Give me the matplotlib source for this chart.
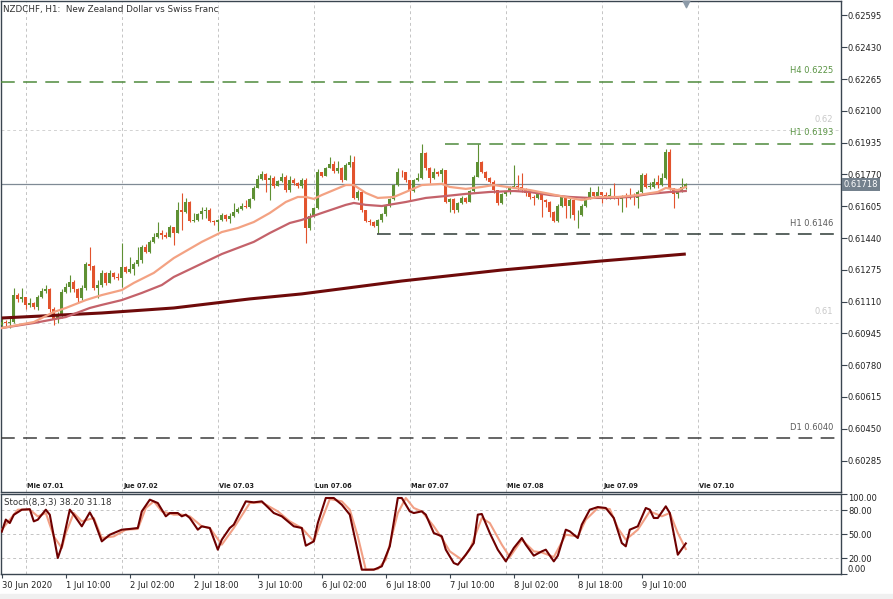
import matplotlib
matplotlib.use('Agg')
import numpy as np
import matplotlib.pyplot as plt
from matplotlib import transforms
from matplotlib.patches import Rectangle

# ---- data (NZDCHF H1, 30 Jun 18:00 -> 9 Jul 21:00) ----
first_open = 0.60989
closes = [
    0.61006, 0.60997, 0.61006, 0.61144, 0.61122, 0.61132, 0.61093, 0.61101, 0.61084, 0.61132,
    0.61165, 0.61174, 0.61070, 0.61018, 0.61035, 0.61162, 0.61188, 0.61214, 0.61174, 0.61127,
    0.61179, 0.61305, 0.61295, 0.61179, 0.61196, 0.61257, 0.61208, 0.61257, 0.61236, 0.61231,
    0.61291, 0.61265, 0.61281, 0.61305, 0.61326, 0.61395, 0.61369, 0.61421, 0.61444, 0.61468,
    0.61456, 0.61447, 0.61499, 0.61468, 0.61586, 0.61577, 0.61625, 0.61529, 0.61534, 0.61565,
    0.61580, 0.61586, 0.61529, 0.61522, 0.61534, 0.61560, 0.61539, 0.61556, 0.61577, 0.61591,
    0.61608, 0.61603, 0.61643, 0.61702, 0.61746, 0.61771, 0.61741, 0.61753, 0.61712, 0.61736,
    0.61759, 0.61689, 0.61741, 0.61724, 0.61712, 0.61741, 0.61490, 0.61556, 0.61594, 0.61781,
    0.61764, 0.61802, 0.61823, 0.61788, 0.61805, 0.61741, 0.61819, 0.61833, 0.61646, 0.61681,
    0.61586, 0.61529, 0.61522, 0.61504, 0.61534, 0.61563, 0.61608, 0.61643, 0.61715, 0.61785,
    0.61781, 0.61741, 0.61684, 0.61741, 0.61753, 0.61880, 0.61802, 0.61750, 0.61781, 0.61771,
    0.61793, 0.61629, 0.61643, 0.61586, 0.61620, 0.61650, 0.61629, 0.61684, 0.61759, 0.61833,
    0.61785, 0.61750, 0.61733, 0.61689, 0.61620, 0.61667, 0.61677, 0.61702, 0.61712, 0.61707,
    0.61690, 0.61672, 0.61655, 0.61646, 0.61667, 0.61638, 0.61629, 0.61577, 0.61529, 0.61608,
    0.61655, 0.61608, 0.61638, 0.61560, 0.61560, 0.61608, 0.61650, 0.61677, 0.61660, 0.61677,
    0.61663, 0.61660, 0.61660, 0.61650, 0.61643, 0.61660, 0.61655, 0.61650, 0.61646, 0.61681,
    0.61767, 0.61707, 0.61707, 0.61729, 0.61715, 0.61750, 0.61888, 0.61698, 0.61667, 0.61684,
    0.61703, 0.61718]
highs = [
    0.61023, 0.61015, 0.61023, 0.61179, 0.61153, 0.61179, 0.61118, 0.61127, 0.61110, 0.61144,
    0.61179, 0.61196, 0.61179, 0.61084, 0.61058, 0.61174, 0.61205, 0.61248, 0.61222, 0.61179,
    0.61196, 0.61317, 0.61395, 0.61300, 0.61222, 0.61274, 0.61265, 0.61274, 0.61265, 0.61260,
    0.61412, 0.61295, 0.61343, 0.61317, 0.61395, 0.61404, 0.61409, 0.61430, 0.61465, 0.61522,
    0.61482, 0.61473, 0.61508, 0.61496, 0.61629, 0.61672, 0.61646, 0.61632, 0.61568, 0.61570,
    0.61603, 0.61603, 0.61594, 0.61534, 0.61540, 0.61568, 0.61565, 0.61570, 0.61620, 0.61600,
    0.61620, 0.61637, 0.61650, 0.61708, 0.61767, 0.61788, 0.61776, 0.61767, 0.61760, 0.61740,
    0.61776, 0.61767, 0.61764, 0.61750, 0.61730, 0.61750, 0.61750, 0.61570, 0.61600, 0.61799,
    0.61785, 0.61810, 0.61862, 0.61840, 0.61840, 0.61810, 0.61828, 0.61871, 0.61868, 0.61690,
    0.61690, 0.61586, 0.61540, 0.61530, 0.61540, 0.61570, 0.61615, 0.61650, 0.61720, 0.61802,
    0.61793, 0.61776, 0.61741, 0.61748, 0.61776, 0.61926, 0.61888, 0.61810, 0.61802, 0.61790,
    0.61802, 0.61795, 0.61650, 0.61646, 0.61625, 0.61660, 0.61655, 0.61690, 0.61765, 0.61926,
    0.61840, 0.61790, 0.61755, 0.61740, 0.61690, 0.61675, 0.61685, 0.61710, 0.61819, 0.61767,
    0.61776, 0.61700, 0.61675, 0.61665, 0.61675, 0.61672, 0.61640, 0.61630, 0.61580, 0.61615,
    0.61660, 0.61660, 0.61660, 0.61640, 0.61586, 0.61615, 0.61655, 0.61707, 0.61680, 0.61712,
    0.61680, 0.61680, 0.61700, 0.61724, 0.61660, 0.61665, 0.61672, 0.61698, 0.61672, 0.61690,
    0.61775, 0.61776, 0.61730, 0.61753, 0.61767, 0.61776, 0.61902, 0.61902, 0.61700, 0.61690,
    0.61753, 0.61724]
lows = [
    0.60980, 0.60980, 0.60971, 0.60997, 0.61110, 0.61110, 0.61070, 0.61080, 0.61070, 0.61067,
    0.61127, 0.61153, 0.61058, 0.60989, 0.60997, 0.61023, 0.61153, 0.61162, 0.61162, 0.61110,
    0.61118, 0.61170, 0.61274, 0.61170, 0.61127, 0.61188, 0.61196, 0.61205, 0.61226, 0.61222,
    0.61188, 0.61257, 0.61257, 0.61248, 0.61295, 0.61312, 0.61361, 0.61361, 0.61412, 0.61439,
    0.61433, 0.61439, 0.61444, 0.61404, 0.61490, 0.61482, 0.61568, 0.61525, 0.61525, 0.61530,
    0.61540, 0.61542, 0.61525, 0.61508, 0.61477, 0.61530, 0.61530, 0.61516, 0.61550, 0.61568,
    0.61586, 0.61594, 0.61594, 0.61637, 0.61697, 0.61740, 0.61681, 0.61637, 0.61700, 0.61712,
    0.61730, 0.61680, 0.61680, 0.61715, 0.61700, 0.61700, 0.61413, 0.61482, 0.61550, 0.61590,
    0.61755, 0.61760, 0.61810, 0.61780, 0.61780, 0.61733, 0.61741, 0.61810, 0.61640, 0.61638,
    0.61577, 0.61522, 0.61508, 0.61499, 0.61465, 0.61525, 0.61555, 0.61600, 0.61638, 0.61708,
    0.61759, 0.61733, 0.61638, 0.61680, 0.61735, 0.61745, 0.61795, 0.61724, 0.61745, 0.61760,
    0.61733, 0.61620, 0.61573, 0.61568, 0.61577, 0.61615, 0.61620, 0.61625, 0.61680, 0.61755,
    0.61775, 0.61740, 0.61725, 0.61672, 0.61612, 0.61615, 0.61660, 0.61670, 0.61697, 0.61690,
    0.61680, 0.61660, 0.61645, 0.61612, 0.61640, 0.61551, 0.61603, 0.61551, 0.61522, 0.61525,
    0.61600, 0.61542, 0.61542, 0.61534, 0.61490, 0.61555, 0.61600, 0.61645, 0.61650, 0.61655,
    0.61620, 0.61640, 0.61640, 0.61640, 0.61612, 0.61577, 0.61603, 0.61640, 0.61612, 0.61594,
    0.61675, 0.61700, 0.61695, 0.61700, 0.61700, 0.61710, 0.61745, 0.61690, 0.61594, 0.61646,
    0.61680, 0.61695]

# moving averages (bar index, value)
ma_fast_idx = [0, 8, 13, 16, 21, 25, 30, 33, 38, 43, 50, 55, 59, 63, 67, 71, 74, 76, 78, 80, 86, 88,
               91, 94, 98, 101, 105, 110, 112, 116, 120, 123, 128, 132, 137, 142, 145, 149, 154,
               159, 164, 166, 169, 171]
ma_fast = [0.60973, 0.61004, 0.61056, 0.61077, 0.61118, 0.61144, 0.61170, 0.61207, 0.61259, 0.61336,
           0.61420, 0.61471, 0.61492, 0.61523, 0.61570, 0.61627, 0.61653, 0.61653, 0.61643, 0.61663,
           0.61715, 0.61715, 0.61674, 0.61648, 0.61653, 0.61679, 0.61715, 0.61721, 0.61705, 0.61695,
           0.61705, 0.61715, 0.61700, 0.61689, 0.61669, 0.61648, 0.61637, 0.61653, 0.61653, 0.61663,
           0.61679, 0.61700, 0.61689, 0.61705]
ma_mid_idx = [0, 8, 16, 22, 25, 30, 35, 40, 43, 55, 63, 67, 72, 75, 80, 86, 88, 91, 95, 101, 106,
              111, 116, 122, 128, 132, 137, 142, 147, 152, 157, 162, 167, 171]
ma_mid = [0.60973, 0.60999, 0.61030, 0.61077, 0.61093, 0.61118, 0.61155, 0.61196, 0.61238, 0.61357,
          0.61420, 0.61466, 0.61518, 0.61534, 0.61570, 0.61612, 0.61622, 0.61612, 0.61606, 0.61627,
          0.61648, 0.61658, 0.61669, 0.61679, 0.61684, 0.61679, 0.61663, 0.61653, 0.61648, 0.61648,
          0.61653, 0.61669, 0.61679, 0.61684]
ma_slow_idx = [0, 25, 43, 62, 75, 100, 125, 150, 171]
ma_slow = [0.61025, 0.61051, 0.61077, 0.61124, 0.61150, 0.61217, 0.61274, 0.61321, 0.61357]

levels = [0.6225, 0.6193, 0.6146, 0.6040]
level_labels = ['H4 0.6225', 'H1 0.6193', 'H1 0.6146', 'D1 0.6040']
last_price = 0.61718

# stochastic (8,3,3)
stk_idx = [0, 1, 2, 3, 5, 7, 8, 9, 11, 12, 14, 15, 17, 18, 20, 22, 23, 25, 27, 30, 32, 34, 35, 37, 39,
           41, 42, 44, 45, 46, 47, 49, 50, 52, 54, 55, 57, 58, 61, 63, 65, 68, 70, 73, 75, 76, 78, 79,
           81, 83, 85, 87, 90, 91, 93, 95, 97, 99, 100, 102, 103, 105, 106, 108, 110, 111, 112, 113,
           114, 116, 118, 119, 120, 122, 124, 126, 128, 130, 131, 133, 135, 136, 138, 139, 141, 142,
           144, 145, 147, 149, 151, 153, 155, 156, 157, 159, 161, 162, 163, 164, 166, 167, 169, 171]
stk_main = [53, 68, 63.7, 74, 80.4, 81, 65.8, 67.9, 80.4, 74.1, 20, 34.6, 80.4, 74, 59.6, 77, 67.9,
            40.8, 49.1, 55.4, 56.3, 57.5, 78.3, 92.9, 88.7, 72.1, 76.2, 76.2, 72.1, 74.2, 70, 55.4,
            59.6, 57.5, 30.4, 42.9, 57.5, 61.7, 90.8, 89.6, 90.8, 76.2, 72.1, 59.6, 57.5, 35.4, 40.8,
            63.7, 95, 95, 86.6, 74.2, 5.4, 5.4, 5.4, 9.6, 34.6, 95, 95, 78.3, 76.2, 78.3, 74.2, 51.2,
            47.1, 30.4, 22, 13.7, 11.6, 24.1, 38.7, 74.2, 75, 51.2, 30.4, 15.8, 32.5, 45, 36.6, 22.9,
            28.3, 30.4, 15.8, 22.9, 55.4, 53.3, 45, 61.7, 80.4, 83.7, 82.5, 70, 38.7, 34.6, 55.4,
            59.6, 82.5, 80.4, 70, 70, 84.6, 76.2, 24.1, 38.2]
sig_idx = [0, 2, 4, 7, 9, 11, 13, 15, 16, 18, 20, 23, 25, 28, 31, 34, 36, 38, 40, 43, 45, 47, 50, 52,
           55, 58, 62, 65, 69, 72, 75, 78, 80, 82, 85, 87, 89, 91, 94, 96, 99, 101, 103, 105, 108,
           110, 112, 115, 117, 120, 122, 125, 127, 130, 133, 135, 138, 141, 144, 146, 149, 152, 154,
           156, 159, 162, 165, 167, 169, 171]
stk_signal = [55.4, 67.9, 80.4, 80.4, 72, 76.2, 47, 32.5, 51.2, 76.2, 65.8, 70, 45, 47, 55.4, 56.3,
              82.5, 90.8, 78.3, 74.2, 74.2, 72.1, 59.6, 57.5, 36.7, 57.5, 88.7, 89.6, 78.3, 65.8,
              57.5, 40.8, 67.9, 93.7, 90.8, 80.4, 47, 5.4, 6.2, 17.9, 76.2, 95, 82.5, 78.3, 59.6,
              45, 28.3, 17.9, 30.4, 70, 63.7, 36.7, 21.2, 42.9, 28.3, 27, 21.2, 49.1, 47, 67.9,
              82.5, 81.2, 57.5, 42.9, 55.4, 78.3, 72.1, 76.2, 51.2, 31.2]

price_ticks = ['0.62595', '0.62430', '0.62265', '0.62100', '0.61935', '0.61770', '0.61605', '0.61440',
               '0.61275', '0.61110', '0.60945', '0.60780', '0.60615', '0.60450', '0.60285']
day_idx = [6, 30, 54, 78, 102, 126, 150, 174]
day_labels = ['Mie 07.01', 'Jue 07.02', 'Vie 07.03', 'Lun 07.06', 'Mar 07.07', 'Mie 07.08',
              'Jue 07.09', 'Vie 07.10']
time_idx = [0, 16, 32, 48, 64, 80, 96, 112, 128, 144, 160]
time_labels = ['30 Jun 2020', '1 Jul 10:00', '2 Jul 02:00', '2 Jul 18:00', '3 Jul 10:00',
               '6 Jul 02:00', '6 Jul 18:00', '7 Jul 10:00', '8 Jul 02:00', '8 Jul 18:00',
               '9 Jul 10:00']

GREEN = '#5e9033'
RED = '#e2532d'
FRAME = '#3a4550'
GRID = '#c4c4c4'

W, H = 893, 599
fig = plt.figure(figsize=(W / 100, H / 100), dpi=100)


def rect(x0, y0, x1, y1):
    return [x0 / W, 1 - y1 / H, (x1 - x0) / W, (y1 - y0) / H]


ax = fig.add_axes(rect(1, 1, 841, 492))
ax2 = fig.add_axes(rect(1, 494, 841, 574))
fig.patches.append(Rectangle((0, 0), 1, 5 / H, transform=fig.transFigure, color='#f0f0f0', zorder=0))

xlim = (-0.2, 209.8)
for a in (ax, ax2):
    a.set_xlim(*xlim)
    for s in a.spines.values():
        s.set_color(FRAME)
        s.set_linewidth(1)
    for d in day_idx:
        a.axvline(d, color=GRID, lw=0.7, dashes=(3, 3), zorder=1)

# ---- main price panel ----
c = np.array(closes)
o = np.r_[first_open, c[:-1]]
hi = np.maximum(np.array(highs), np.maximum(o, c))
lo = np.minimum(np.array(lows), np.minimum(o, c))
idx = np.arange(len(c))
col = np.where(c >= o, GREEN, RED)
ax.vlines(idx, lo, hi, colors=col, lw=0.8, zorder=3)
ax.bar(idx, np.maximum(np.abs(c - o), 0.00002), bottom=np.minimum(o, c), width=0.76,
       color=col, lw=0, zorder=3)

ax.plot(ma_slow_idx, ma_slow, color='#6e0a0a', lw=2.2, zorder=5, solid_capstyle='butt')
ax.plot(ma_mid_idx, ma_mid, color='#c4626a', lw=1.6, zorder=5)
ax.plot(ma_fast_idx, ma_fast, color='#f3a283', lw=1.6, zorder=6)

ax.set_ylim(0.60122, 0.62670)
for g in (0.62, 0.61):
    ax.axhline(g, color='#d2d2d2', lw=0.7, dashes=(3, 3), zorder=1)
ax.axhline(last_price, color='#7f8a95', lw=0.9, zorder=2)

lab_tr = transforms.offset_copy(ax.transData, fig=fig, x=0, y=11 * 0.72, units='points')
lvl_start = [xlim[0], 110.8, 93.8, xlim[0]]
lvl_col = ['#4e8a3c', '#4e8a3c', '#2e3a36', '#3c3c3c']
lvl_txt = ['#5a9444', '#5a9444', '#5c5c5c', '#5c5c5c']
for lv, lab, st, lc, tc in zip(levels, level_labels, lvl_start, lvl_col, lvl_txt):
    ax.hlines(lv, st, xlim[1], colors=lc, lw=1.1, linestyles=(0, (9, 5.5)), zorder=4)
    ax.text(207.8, lv, lab, ha='right', va='center', fontsize=6, color=tc, transform=lab_tr)
for g in ('0.62', '0.61'):
    ax.text(207.8, float(g), g, ha='right', va='center', fontsize=6, color='#c8c8c8', transform=lab_tr)

ax.yaxis.tick_right()
ax.set_yticks([float(t) for t in price_ticks], price_ticks)
ax.tick_params(axis='y', direction='out', length=4, width=0.8, color=FRAME, labelsize=6,
               labelcolor='#222222', pad=1)
ax.set_xticks([])

bt = transforms.blended_transform_factory(ax.transAxes, ax.transData)
ax.text(1.0029, last_price, '0.61718', transform=bt, ha='left', va='center',
        fontsize=6, color='white', clip_on=False,
        bbox=dict(boxstyle='square,pad=0.22', fc='#74818d', ec='none'))

dt = transforms.blended_transform_factory(ax.transData, ax.transAxes)
for d, lab in zip(day_idx, day_labels):
    ax.text(d + 0.35, 0.013, lab, transform=dt, fontsize=4.8, fontweight='bold', color='#202020',
            va='center', ha='left')

ax.text(0.0025, 0.9817, 'NZDCHF, H1:  New Zealand Dollar vs Swiss Franc', transform=ax.transAxes,
        fontsize=6.3, color='#303030', va='center', ha='left')
ax.scatter([171], [0.9935], marker='v', s=22, color='#8c9aa8', transform=dt, clip_on=False, zorder=7)

# ---- stochastic panel ----
ax2.set_ylim(0, 100)
for g in (20, 50, 80):
    ax2.axhline(g, color=GRID, lw=0.7, dashes=(3, 3), zorder=1)
ax2.plot(stk_idx, stk_main, color='#6e0000', lw=1.5, zorder=4)
ax2.plot(sig_idx, stk_signal, color='#f2a085', lw=1.5, zorder=3)
ax2.text(0.004, 0.8875, 'Stoch(8,3,3) 38.20 31.18', transform=ax2.transAxes, fontsize=6.2,
         color='#303030', va='center', ha='left')
ax2.yaxis.tick_right()
ax2.set_yticks([0, 20, 50, 80, 100], ['0.00', '20.00', '50.00', '80.00', '100.00'])
ax2.tick_params(axis='y', direction='out', length=4, width=0.8, color=FRAME, labelsize=6,
                labelcolor='#222222', pad=1)
yl = ax2.get_yticklabels()
yl[0].set_va('bottom')
yl[-1].set_va('top')
ax2.set_xticks(time_idx, time_labels)
ax2.tick_params(axis='x', direction='out', length=3, width=0.8, color=FRAME, labelsize=6,
                labelcolor='#222222', pad=2)
for t in ax2.get_xticklabels():
    t.set_ha('left')

fig.savefig('out.png', dpi=100)
